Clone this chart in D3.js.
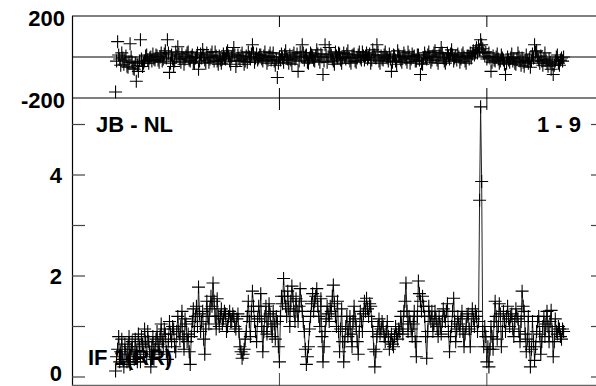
<!DOCTYPE html>
<html><head><meta charset="utf-8">
<script src="https://cdn.jsdelivr.net/npm/d3@7"></script>
<style>
html,body{margin:0;padding:0;background:#fff;}
svg{display:block;}
text{font-family:"Liberation Sans",Arial,sans-serif;font-weight:bold;font-size:22px;fill:#000;}
</style></head>
<body>
<script>
// channel axis
const channelStart = 42, channelStep = 1;
const xDomain = [0, 512];
const xTicks = [200, 400];
// amplitude (lower panel)
const amplitude = [
 0.12,0.4,0.55,0.8,0.3,0.5,0.75,0.35,0.2,0.65,0.45,0.3,0.6,0.8,0.25,0.55,0.7,0.4,0.35,0.75,
 0.5,0.3,0.85,0.6,0.3,0.8,0.65,0.45,0.95,0.7,0.4,0.9,0.7,0.5,0.2,0.6,0.8,0.35,0.55,0.75,
 0.9,0.65,0.45,0.8,1.05,0.7,0.6,0.95,0.85,0.5,0.35,0.75,1.1,0.85,0.7,1.0,0.95,0.6,0.5,0.9,
 1.2,0.9,0.75,1.0,1.3,0.8,0.55,1.15,1.05,0.7,0.85,0.5,0.25,0.8,1.1,1.35,0.9,1.2,1.4,1.0,
 1.78,1.25,0.9,1.1,1.3,0.75,0.45,0.95,1.5,1.2,1.05,1.35,1.6,1.4,1.86,1.5,1.2,0.95,1.55,1.2,
 1.0,1.2,1.35,1.05,1.15,1.3,1.25,0.9,1.0,1.2,1.3,1.1,1.1,1.25,1.2,1.0,0.95,1.15,1.25,0.9,
 0.6,0.5,0.37,0.45,0.55,0.75,0.9,1.2,1.5,1.1,0.8,1.3,1.7,1.4,1.1,0.9,0.7,1.15,1.4,1.2,
 1.65,1.0,0.5,0.9,1.2,1.4,0.85,1.1,1.45,1.25,1.0,0.8,1.3,1.05,0.75,1.2,1.1,0.6,0.3,1.2,
 1.6,1.45,1.95,1.6,1.4,1.2,1.7,1.35,1.0,1.5,1.8,1.6,1.3,1.1,1.55,1.3,1.1,1.4,1.75,1.5,
 1.3,1.1,0.9,0.55,0.25,0.4,0.6,0.95,1.2,1.45,1.65,1.3,1.5,1.6,1.75,1.4,1.2,1.0,1.55,0.8,
 0.3,0.6,0.9,1.15,1.4,1.25,1.1,1.4,1.3,1.6,1.82,1.45,1.2,1.0,1.5,0.9,0.5,0.95,1.35,0.7,
 0.3,0.7,1.0,1.2,0.8,0.95,1.2,0.85,0.6,1.1,1.4,1.15,1.0,0.7,0.45,0.9,1.3,1.1,0.9,1.25,
 1.5,1.3,1.56,1.35,1.2,1.45,1.4,1.1,0.9,0.55,0.2,0.5,0.8,1.0,1.15,0.85,0.95,1.1,1.0,0.8,
 0.7,0.9,1.1,0.8,0.55,0.7,0.85,0.65,0.6,0.8,1.0,0.85,0.75,0.95,0.9,1.2,1.05,0.85,1.3,1.5,
 1.86,1.3,0.9,1.2,1.1,0.95,0.8,1.05,1.3,0.7,0.4,1.2,1.9,1.65,1.5,1.3,1.6,1.4,1.2,0.8,
 0.37,0.9,1.4,1.2,1.1,1.3,0.9,1.05,1.3,1.15,1.0,0.8,1.2,1.0,0.85,1.1,1.35,1.2,1.1,1.3,
 1.45,0.9,0.5,0.8,1.0,1.3,1.56,1.1,0.7,0.95,1.2,1.05,0.9,1.15,1.3,0.9,0.6,0.85,1.0,1.2,
 1.25,0.95,0.6,1.0,1.35,1.15,1.0,1.3,1.2,0.9,1.1,3.5,5.35,3.87,0.9,0.6,1.0,0.8,0.3,0.6,
 0.2,0.55,1.0,0.8,0.55,1.1,1.5,1.2,0.75,1.0,1.45,1.25,0.6,0.9,1.3,1.1,0.9,1.2,1.4,1.15,
 1.0,1.2,1.25,0.95,0.8,1.1,1.35,1.2,1.15,0.9,0.7,1.1,1.7,1.4,1.3,0.85,0.5,0.75,1.2,0.6,
 0.2,0.55,1.1,0.7,0.33,0.6,0.9,1.1,1.2,0.85,0.45,0.7,1.0,1.2,0.8,1.05,1.3,1.0,0.7,1.1,
 1.32,0.9,0.4,0.7,1.15,0.9,0.85,1.0,0.95,0.8,0.75,0.95,0.9
];
// phase in degrees (upper panel)
const phase = [
 -171,-20,75,10,-10,-40,20,-5,-35,-15,5,-45,-50,-25,65,0,-25,-55,-60,-30,
 -118,-40,-70,-20,84,-10,-46,-30,-20,5,10,-15,-30,-5,0,-20,15,-10,-15,10,
 5,-15,-25,0,20,-20,-10,15,30,-5,84,20,-75,-30,10,-10,-46,-20,25,5,
 50,15,-10,-25,15,-5,-35,-10,5,20,25,-15,-20,0,10,-25,-30,-5,0,20,
 -60,-20,15,-5,36,10,-15,-30,20,0,-25,-10,10,25,-5,-20,25,5,-20,-35,
 5,-15,-30,-10,15,-5,-10,20,30,5,-20,-35,0,15,46,10,-46,-20,10,-5,
 -15,5,20,-10,-35,-20,5,-25,25,0,-10,15,60,20,-25,-5,15,-15,-5,10,
 10,-10,-20,5,25,-5,-30,-15,5,20,-15,0,20,-20,-40,-10,-100,-30,0,-15,
 15,-5,-25,10,30,0,-10,-30,10,-15,-35,5,20,-10,-5,15,-70,-20,25,0,
 60,20,-15,5,10,-25,-30,-5,20,10,0,-15,-20,5,35,15,-10,-25,15,0,
 -85,-20,60,10,-25,0,46,15,10,-10,-20,-35,25,5,-5,20,15,-15,-30,-5,
 20,0,-10,15,30,-5,-20,-30,5,10,15,-20,-25,-5,10,25,-5,-15,25,5,
 -15,5,20,-10,0,15,-30,-15,35,10,10,-5,60,25,-20,-30,5,-10,-15,10,
 25,0,-5,-20,15,-10,-70,-25,10,5,-20,-35,30,10,0,-15,-25,-5,20,5,
 -10,-25,25,5,-30,-10,15,0,5,-20,-20,10,10,-15,-85,-30,-35,-5,20,0,
 -10,10,25,-5,-25,-15,5,20,30,0,-15,-30,10,15,46,20,-5,-20,-30,-10,
 20,5,-10,15,35,10,-20,-5,5,-15,15,0,-25,-10,10,20,0,-20,-30,5,
 5,-10,20,-5,15,30,10,25,45,20,55,35,84,60,40,20,5,25,-10,0,
 20,-5,-70,-25,5,-15,-20,0,15,-10,-30,-20,10,-5,-15,-35,-85,-30,0,-15,
 -25,-5,15,-20,-10,-30,-35,-10,20,0,-20,-40,-5,-25,-45,-15,10,-20,-30,-10,
 -50,-20,15,-5,60,25,30,0,-15,-30,5,-20,-40,-10,20,-15,-30,-45,-10,-25,
 -60,-35,-85,-40,-20,0,10,-30,-40,-15,-5,-20,0
];
const phaseTicks = [-200, 0, 200];
const phaseLabels = ["-200", "", "200"];
const ampTicks = [0,1,2,3,4,5];
const ampLabels = ["0","","2","","4",""];
const baselineLabel = "JB - NL";
const scanLabel = "1 - 9";
const ifLabel = "IF 1(RR)";

const W = 596, H = 386;
const svg = d3.select("body").append("svg").attr("width", W).attr("height", H);

const channels = amplitude.map((d, i) => channelStart + i * channelStep);
const x = d3.scaleLinear().domain(xDomain).range([72, 603]);
const yP = d3.scaleLinear().domain([-200, 200]).range([98, 16]);
const yA = d3.scaleLinear().domain([0, 5]).range([377, 124.5]);
const crossPath = "M-6.5,0H6.5M0,-6.5V6.5";

// ---- upper panel
const gTop = svg.append("g");
phaseTicks.forEach((t, i) => {
  gTop.append("line").attr("x1", 72).attr("x2", 603)
    .attr("y1", yP(t)).attr("y2", yP(t))
    .attr("stroke", t === -200 ? "#555" : "#000").attr("stroke-width", t === -200 ? 1.6 : 1.2);
  if (phaseLabels[i]) gTop.append("text").attr("x", 65).attr("y", yP(t) + 10)
    .attr("text-anchor", "end").text(phaseLabels[i]);
});
gTop.append("line").attr("x1", 72.5).attr("x2", 72.5).attr("y1", 16).attr("y2", 98).attr("stroke", "#000").attr("stroke-width", 1.2);
xTicks.forEach(t => {
  gTop.append("line").attr("x1", x(t)).attr("x2", x(t)).attr("y1", 16).attr("y2", 27).attr("stroke", "#000");
  gTop.append("line").attr("x1", x(t)).attr("x2", x(t)).attr("y1", 88).attr("y2", 98).attr("stroke", "#000");
});
gTop.selectAll("path.pc").data(phase).join("path").attr("class", "pc")
  .attr("transform", (d, i) => `translate(${x(channels[i])},${yP(d)})`)
  .attr("d", crossPath).attr("stroke", "#000").attr("stroke-width", 1.1).attr("fill", "none");

// ---- lower panel
const gBot = svg.append("g");
gBot.append("line").attr("x1", 72.5).attr("x2", 72.5).attr("y1", 98).attr("y2", 386).attr("stroke", "#000").attr("stroke-width", 1.2);
gBot.append("line").attr("x1", 72).attr("x2", 603).attr("y1", 385.5).attr("y2", 385.5).attr("stroke", "#666").attr("stroke-width", 1.4);
gBot.append("line").attr("x1", 603).attr("x2", 603).attr("y1", 98).attr("y2", 386).attr("stroke", "#000");
ampTicks.forEach((t, i) => {
  gBot.append("line").attr("x1", 72).attr("x2", 85).attr("y1", yA(t)).attr("y2", yA(t)).attr("stroke", "#444").attr("stroke-width", 1.2);
  gBot.append("line").attr("x1", 591).attr("x2", 603).attr("y1", yA(t)).attr("y2", yA(t)).attr("stroke", "#444").attr("stroke-width", 1.2);
  if (ampLabels[i]) gBot.append("text").attr("x", 62).attr("y", Math.min(yA(t) + 8, 381))
    .attr("text-anchor", "end").text(ampLabels[i]);
});
xTicks.forEach(t => {
  gBot.append("line").attr("x1", x(t)).attr("x2", x(t)).attr("y1", 98).attr("y2", 110).attr("stroke", "#000");
  gBot.append("line").attr("x1", x(t)).attr("x2", x(t)).attr("y1", 373).attr("y2", 386).attr("stroke", "#444");
});
const line = d3.line().x((d, i) => x(channels[i])).y(d => yA(d));
gBot.append("path").datum(amplitude).attr("d", line).attr("fill", "none").attr("stroke", "#222").attr("stroke-width", 1);
gBot.selectAll("path.ac").data(amplitude).join("path").attr("class", "ac")
  .attr("transform", (d, i) => `translate(${x(channels[i])},${yA(d)})`)
  .attr("d", crossPath).attr("stroke", "#000").attr("stroke-width", 1.1).attr("fill", "none");

svg.append("text").attr("x", 96).attr("y", 132).text(baselineLabel);
svg.append("text").attr("x", 581).attr("y", 132).attr("text-anchor", "end").text(scanLabel);
svg.append("text").attr("x", 88).attr("y", 365).text(ifLabel);
</script>
</body></html>
